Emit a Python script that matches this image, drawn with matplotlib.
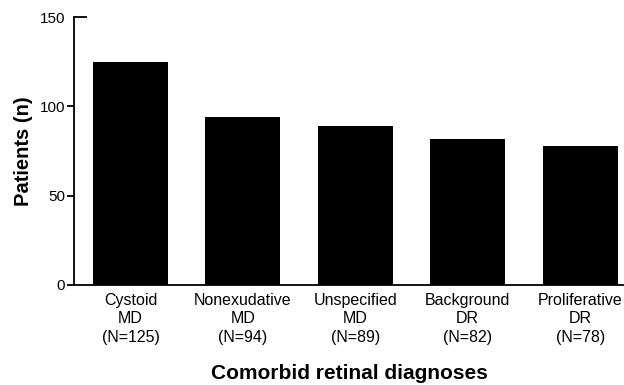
import matplotlib
matplotlib.use("Agg")
import matplotlib.pyplot as plt
import numpy as np

plt.rcParams["font.family"] = ["Liberation Sans", "DejaVu Sans"]

# Data
diagnoses = ["Cystoid\nMD\n(N=125)", "Nonexudative\nMD\n(N=94)", "Unspecified\nMD\n(N=89)",
             "Background\nDR\n(N=82)", "Proliferative\nDR\n(N=78)"]
patients = [125, 94, 89, 82, 78]
yticks = [0, 50, 100, 150]

fig = plt.figure(figsize=(6.24, 3.85), dpi=100)
ax = fig.add_axes([0.119, 0.2605, 0.881, 0.6945])

x = np.arange(len(patients))
ax.bar(x, patients, width=0.667, color="black")

ax.set_xlim(-0.5, 4.39)
ax.set_ylim(0, 150)
ax.set_yticks(yticks)
ax.set_xticks(x)
ax.set_xticklabels(diagnoses, fontsize=11.5, linespacing=1.28)

for side in ["top", "right"]:
    ax.spines[side].set_visible(False)
for side in ["left", "bottom"]:
    ax.spines[side].set_linewidth(1.3)

ax.tick_params(axis="x", length=0, pad=6)
ax.tick_params(axis="y", length=5, width=1.3, labelsize=11, pad=1.5)
# top tick points inward instead
ax.yaxis.get_major_ticks()[-1].tick1line.set_visible(False)
ax.plot([0, 0.024], [150, 150], color="black", lw=1.3,
        transform=ax.get_yaxis_transform(), clip_on=False, solid_capstyle="butt")

ax.set_ylabel("Patients (n)", fontsize=14.5, fontweight="bold", labelpad=5)
ax.set_xlabel("Comorbid retinal diagnoses", fontsize=15, fontweight="bold", labelpad=14)

fig.savefig("out.png", dpi=100)
